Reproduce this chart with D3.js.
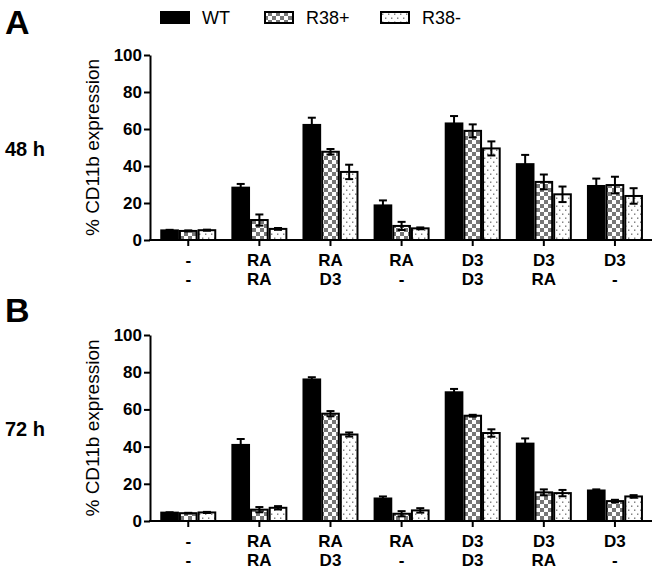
<!DOCTYPE html>
<html><head><meta charset="utf-8">
<script src="https://cdn.jsdelivr.net/npm/d3@7"></script>
<style>
body{margin:0;background:#fff}
svg{display:block;font-family:"Liberation Sans",Arial,Helvetica,sans-serif}
</style>
</head><body>
<svg id="c" width="662" height="577"></svg>
<script>
// ---- data ----
const groupIds = ["g1","g2","g3","g4","g5","g6","g7"];
const treatmentRow1 = ["-","RA","RA","RA","D3","D3","D3"];
const treatmentRow2 = ["-","RA","D3","-","D3","RA","-"];
const seriesNames = ["WT","R38+","R38-"];
const yTicks = [0,20,40,60,80,100];

// 48 h (panel A)
const wt48      = [5.2, 28.3, 62.2, 18.7, 63.0, 41.0, 29.2];
const wt48Err   = [0.3, 2.0, 3.9, 2.7, 4.0, 5.0, 4.0];
const r38p48    = [4.9, 10.8, 47.7, 7.6, 59.0, 31.4, 29.7];
const r38p48Err = [0.3, 3.0, 1.5, 2.2, 3.5, 4.0, 4.5];
const r38m48    = [5.3, 6.0, 36.8, 6.3, 49.5, 24.7, 23.8];
const r38m48Err = [0.3, 0.5, 3.9, 0.5, 3.8, 4.2, 4.2];

// 72 h (panel B)
const wt72      = [4.5, 40.9, 76.1, 12.1, 69.2, 41.6, 16.4];
const wt72Err   = [0.2, 3.2, 1.2, 1.1, 1.8, 2.8, 0.6];
const r38p72    = [4.2, 6.1, 57.7, 3.9, 56.6, 15.4, 10.7];
const r38p72Err = [0.2, 1.4, 1.4, 1.4, 0.5, 1.6, 0.7];
const r38m72    = [4.6, 7.1, 46.5, 5.7, 47.3, 15.0, 13.2];
const r38m72Err = [0.3, 0.9, 1.1, 1.2, 2.0, 1.7, 0.7];

// ---- drawing ----
const svg = d3.select("#c");
const defs = svg.append("defs");
const chk = defs.append("pattern").attr("id","checker").attr("patternUnits","userSpaceOnUse")
  .attr("width",8).attr("height",8);
chk.append("rect").attr("width",8).attr("height",8).attr("fill","#fff");
chk.append("rect").attr("width",4).attr("height",4).attr("fill","#777");
chk.append("rect").attr("x",4).attr("y",4).attr("width",4).attr("height",4).attr("fill","#777");
const dot = defs.append("pattern").attr("id","dots").attr("patternUnits","userSpaceOnUse")
  .attr("width",6).attr("height",8);
dot.append("rect").attr("width",6).attr("height",8).attr("fill","#fff");
dot.append("rect").attr("x",1).attr("y",1.5).attr("width",1.4).attr("height",1.4).attr("fill","#777");
dot.append("rect").attr("x",4).attr("y",5.5).attr("width",1.4).attr("height",1.4).attr("fill","#777");

const fills = ["#000","url(#checker)","url(#dots)"];

const x = d3.scaleBand().domain(groupIds).range([152.7, 650.5]).padding(0);
const groupW = 56;
const xi = d3.scaleBand().domain(seriesNames)
  .range([(x.bandwidth()-groupW)/2, (x.bandwidth()+groupW)/2]).padding(0);

function panel(cfg){
  const y = d3.scaleLinear().domain([0,100]).range([cfg.y0, cfg.y100]);
  const g = svg.append("g");
  const series = [
    {name:"WT", v:cfg.wt, e:cfg.wtE},
    {name:"R38+", v:cfg.p, e:cfg.pE},
    {name:"R38-", v:cfg.m, e:cfg.mE}
  ];
  const rows = [];
  groupIds.forEach((gid,i)=>{
    series.forEach((s,k)=>rows.push({gid, name:s.name, k, v:s.v[i], e:s.e[i]}));
  });
  // bars
  g.selectAll("rect.bar").data(rows).join("rect").attr("class","bar")
    .attr("x",d=>x(d.gid)+xi(d.name)+1)
    .attr("width",xi.bandwidth()-2)
    .attr("y",d=>y(d.v))
    .attr("height",d=>y(0)-y(d.v))
    .attr("fill",d=>fills[d.k])
    .attr("stroke","#000").attr("stroke-width",2);
  // error bars
  const eb = g.selectAll("g.eb").data(rows).join("g").attr("class","eb")
    .attr("stroke","#000").attr("stroke-width",2);
  const cx = d=>x(d.gid)+xi(d.name)+xi.bandwidth()/2;
  eb.append("line").attr("x1",cx).attr("x2",cx)
    .attr("y1",d=>y(Math.max(0,d.v-d.e))).attr("y2",d=>y(d.v+d.e));
  eb.append("line").attr("x1",d=>cx(d)-4).attr("x2",d=>cx(d)+4)
    .attr("y1",d=>y(d.v+d.e)).attr("y2",d=>y(d.v+d.e));
  eb.append("line").attr("x1",d=>cx(d)-4).attr("x2",d=>cx(d)+4)
    .attr("y1",d=>y(Math.max(0,d.v-d.e))).attr("y2",d=>y(Math.max(0,d.v-d.e)));

  // y axis
  const ya = g.append("g").attr("transform","translate(150,0)")
    .call(d3.axisLeft(y).tickValues(yTicks).tickSize(6).tickSizeOuter(0).tickPadding(2));
  ya.select(".domain").attr("stroke-width",2);
  ya.selectAll(".tick line").attr("stroke-width",2);
  ya.selectAll(".tick text").attr("font-size",17).attr("font-weight","bold")
    .attr("font-family","'Liberation Sans',Arial,sans-serif").attr("fill","#000");

  // x axis
  const xa = g.append("g").attr("transform",`translate(0,${y(0)})`)
    .call(d3.axisBottom(x).tickSize(6).tickSizeOuter(0).tickFormat(""));
  xa.select(".domain").remove();
  xa.selectAll(".tick line").attr("stroke-width",2);
  g.append("line").attr("x1",149).attr("x2",652).attr("y1",y(0)).attr("y2",y(0))
    .attr("stroke","#000").attr("stroke-width",2);
  g.selectAll("text.r1").data(groupIds).join("text").attr("class","r1")
    .attr("x",d=>x(d)+x.bandwidth()/2).attr("y",y(0)+26)
    .attr("text-anchor","middle").attr("font-size",17).attr("font-weight","bold")
    .text((d,i)=>treatmentRow1[i]);
  g.selectAll("text.r2").data(groupIds).join("text").attr("class","r2")
    .attr("x",d=>x(d)+x.bandwidth()/2).attr("y",y(0)+45)
    .attr("text-anchor","middle").attr("font-size",17).attr("font-weight","bold")
    .text((d,i)=>treatmentRow2[i]);

  // y title
  const cy = (y(0)+y(100))/2;
  g.append("text").attr("transform",`translate(99,${cy}) rotate(-90)`)
    .attr("text-anchor","middle").attr("font-size",19).text("% CD11b expression");
  // time label
  g.append("text").attr("x",5).attr("y",cy+8).attr("font-size",20).attr("font-weight","bold").text(cfg.time);
  // panel letter
  g.append("text").attr("x",5).attr("y",cfg.letterY).attr("font-size",34).attr("font-weight","bold").text(cfg.letter);
}

panel({y0:240, y100:55, wt:wt48, wtE:wt48Err, p:r38p48, pE:r38p48Err, m:r38m48, mE:r38m48Err,
  time:"48 h", letter:"A", letterY:34});
panel({y0:521, y100:335, wt:wt72, wtE:wt72Err, p:r38p72, pE:r38p72Err, m:r38m72, mE:r38m72Err,
  time:"72 h", letter:"B", letterY:322});

// legend
const legX = [161, 265, 381];
const leg = svg.append("g");
seriesNames.forEach((n,k)=>{
  leg.append("rect").attr("x",legX[k]).attr("y",12).attr("width",28).attr("height",11)
    .attr("fill",fills[k]).attr("stroke","#000").attr("stroke-width",2);
  leg.append("text").attr("x",legX[k]+41).attr("y",24).attr("font-size",18).text(n);
});
</script>
</body></html>
